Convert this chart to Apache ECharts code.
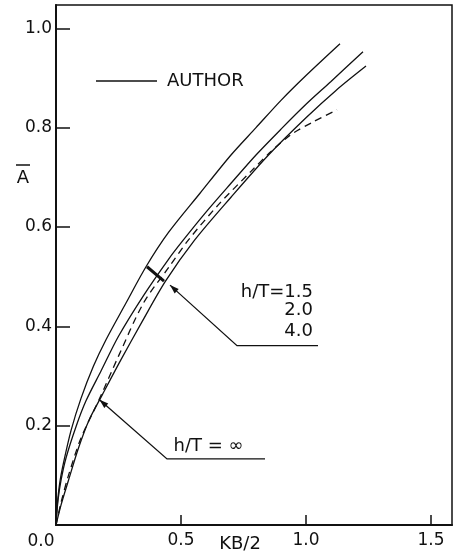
<!DOCTYPE html>
<html><head><meta charset="utf-8">
<script src="https://cdn.jsdelivr.net/npm/echarts@6/dist/echarts.min.js"></script>
<style>html,body{margin:0;padding:0;background:#fff}#c{width:457px;height:553px}</style>
</head><body><div id="c"></div>
<script>
// ---- data (x = KB/2, y = A-bar) ----
const xTicks = [0.5, 1.0, 1.5];
const yTicks = [0.2, 0.4, 0.6, 0.8, 1.0];

const curveH15 = [[0,0],[0.005,0.04],[0.015,0.085],[0.03,0.125],[0.06,0.19],[0.1,0.255],[0.15,0.32],[0.2,0.373],[0.28,0.447],[0.36,0.52],[0.45,0.589],[0.576,0.668],[0.7,0.745],[0.8,0.80],[0.9,0.855],[1.0,0.905],[1.136,0.969]];
const curveH20 = [[0,0],[0.008,0.05],[0.02,0.09],[0.04,0.135],[0.08,0.198],[0.12,0.25],[0.18,0.31],[0.25,0.38],[0.35,0.462],[0.45,0.535],[0.508,0.573],[0.6,0.63],[0.7,0.688],[0.8,0.745],[0.9,0.797],[1.0,0.847],[1.1,0.893],[1.228,0.953]];
const curveH40 = [[0,0],[0.02,0.04],[0.05,0.09],[0.09,0.155],[0.132,0.211],[0.185,0.262],[0.26,0.333],[0.345,0.41],[0.438,0.491],[0.555,0.574],[0.7,0.66],[0.85,0.745],[1.0,0.82],[1.12,0.875],[1.24,0.924]];
const curveHinf = [[0,0],[0.02,0.045],[0.05,0.1],[0.1,0.175],[0.172,0.252],[0.25,0.34],[0.35,0.447],[0.45,0.518],[0.53,0.574],[0.65,0.645],[0.78,0.712],[0.86,0.752],[0.94,0.786],[1.03,0.812],[1.124,0.836]];

// annotation anchors (data coordinates)
const ptrFinite = [[0.456,0.483],[0.724,0.361],[1.048,0.361]];
const ptrInf = [[0.174,0.252],[0.444,0.133],[0.836,0.133]];
const barFinite = [[0.364,0.520],[0.432,0.491]];
const legendLine = [[0.16,0.894],[0.404,0.894]];
const labelsRight = [{t:'h/T=1.5', p:[1.028,0.468]},{t:'2.0', p:[1.028,0.432]},{t:'4.0', p:[1.028,0.390]}];
const labelsLeft = [{t:'h/T = ∞', p:[0.47,0.158]},{t:'AUTHOR', p:[0.444,0.894]}];

const FONT = 'DejaVu Sans';
const INK = '#111';

const chart = echarts.init(document.getElementById('c'), null, {renderer:'canvas'});
function lineSeries(name, data, dash){
  return {name, type:'line', data, smooth:0.3, showSymbol:false, symbol:'none',
    lineStyle:{color:INK, width:1.3, type: dash ? [7,5] : 'solid'}, z:3, silent:true};
}
chart.setOption({
  animation:false,
  backgroundColor:'#fff',
  grid:{left:56, top:5, right:5, bottom:28, show:true, borderColor:INK, borderWidth:1.5},
  xAxis:{type:'value', min:0, max:1.584, interval:0.5,
    axisLine:{show:true, onZero:false, lineStyle:{color:INK, width:2}},
    axisTick:{show:true, inside:true, length:10, customValues:xTicks, lineStyle:{color:INK, width:1.5}},
    axisLabel:{customValues:xTicks, formatter:v=>v.toFixed(1), margin:7, color:INK, fontFamily:FONT, fontSize:17},
    splitLine:{show:false}},
  yAxis:{type:'value', min:0, max:1.047, interval:0.2,
    axisLine:{show:true, onZero:false, lineStyle:{color:INK, width:2}},
    axisTick:{show:true, inside:true, length:14, customValues:yTicks, lineStyle:{color:INK, width:1.5}},
    axisLabel:{customValues:yTicks, formatter:v=>v.toFixed(1), margin:4, color:INK, fontFamily:FONT, fontSize:17},
    splitLine:{show:false}},
  series:[
    lineSeries('h/T=1.5', curveH15, false),
    lineSeries('h/T=2.0', curveH20, false),
    lineSeries('h/T=4.0', curveH40, false),
    lineSeries('h/T=∞', curveHinf, true)
  ]
});

function px(p){ return chart.convertToPixel({gridIndex:0}, p); }
function arrowHead(tip, from){
  const a = px(tip), b = px(from);
  const dx = a[0]-b[0], dy = a[1]-b[1], L = Math.hypot(dx,dy);
  const ux = dx/L, uy = dy/L, len = 9, w = 3;
  const bx = a[0]-ux*len, by = a[1]-uy*len;
  return {type:'polygon', shape:{points:[[a[0],a[1]],[bx-uy*w,by+ux*w],[bx+uy*w,by-ux*w]]}, style:{fill:INK}, z:10};
}
const g = [];
[ptrFinite, ptrInf].forEach(p=>{
  g.push({type:'polyline', shape:{points:p.map(px)}, style:{stroke:INK, lineWidth:1.3, fill:null}, z:10});
  g.push(arrowHead(p[0], p[1]));
});
g.push({type:'line', shape:(()=>{const a=px(barFinite[0]),b=px(barFinite[1]);return {x1:a[0],y1:a[1],x2:b[0],y2:b[1]};})(), style:{stroke:INK, lineWidth:3}, z:10});
(()=>{const a=px(legendLine[0]),b=px(legendLine[1]);
  g.push({type:'line', shape:{x1:a[0],y1:a[1],x2:b[0],y2:b[1]}, style:{stroke:INK, lineWidth:1.5}, z:10});})();
labelsRight.forEach(l=>{const a=px(l.p);
  g.push({type:'text', x:a[0], y:a[1], style:{text:l.t, fill:INK, font:'18px "'+FONT+'"', align:'right', verticalAlign:'middle'}, z:10});});
labelsLeft.forEach(l=>{const a=px(l.p);
  g.push({type:'text', x:a[0], y:a[1], style:{text:l.t, fill:INK, font:'18px "'+FONT+'"', align:'left', verticalAlign:'middle'}, z:10});});
// axis names
g.push({type:'text', x:41, y:542, style:{text:'0.0', fill:INK, font:'17px "'+FONT+'"', align:'center', verticalAlign:'middle'}, z:10});
g.push({type:'text', x:240, y:544, style:{text:'KB/2', fill:INK, font:'18px "'+FONT+'"', align:'center', verticalAlign:'middle'}, z:10});
g.push({type:'text', x:23, y:178, style:{text:'A', fill:INK, font:'18px "'+FONT+'"', align:'center', verticalAlign:'middle'}, z:10});
g.push({type:'line', shape:{x1:16, y1:165, x2:30, y2:165}, style:{stroke:INK, lineWidth:1.5}, z:10});
chart.setOption({graphic:g});
</script>
</body></html>
